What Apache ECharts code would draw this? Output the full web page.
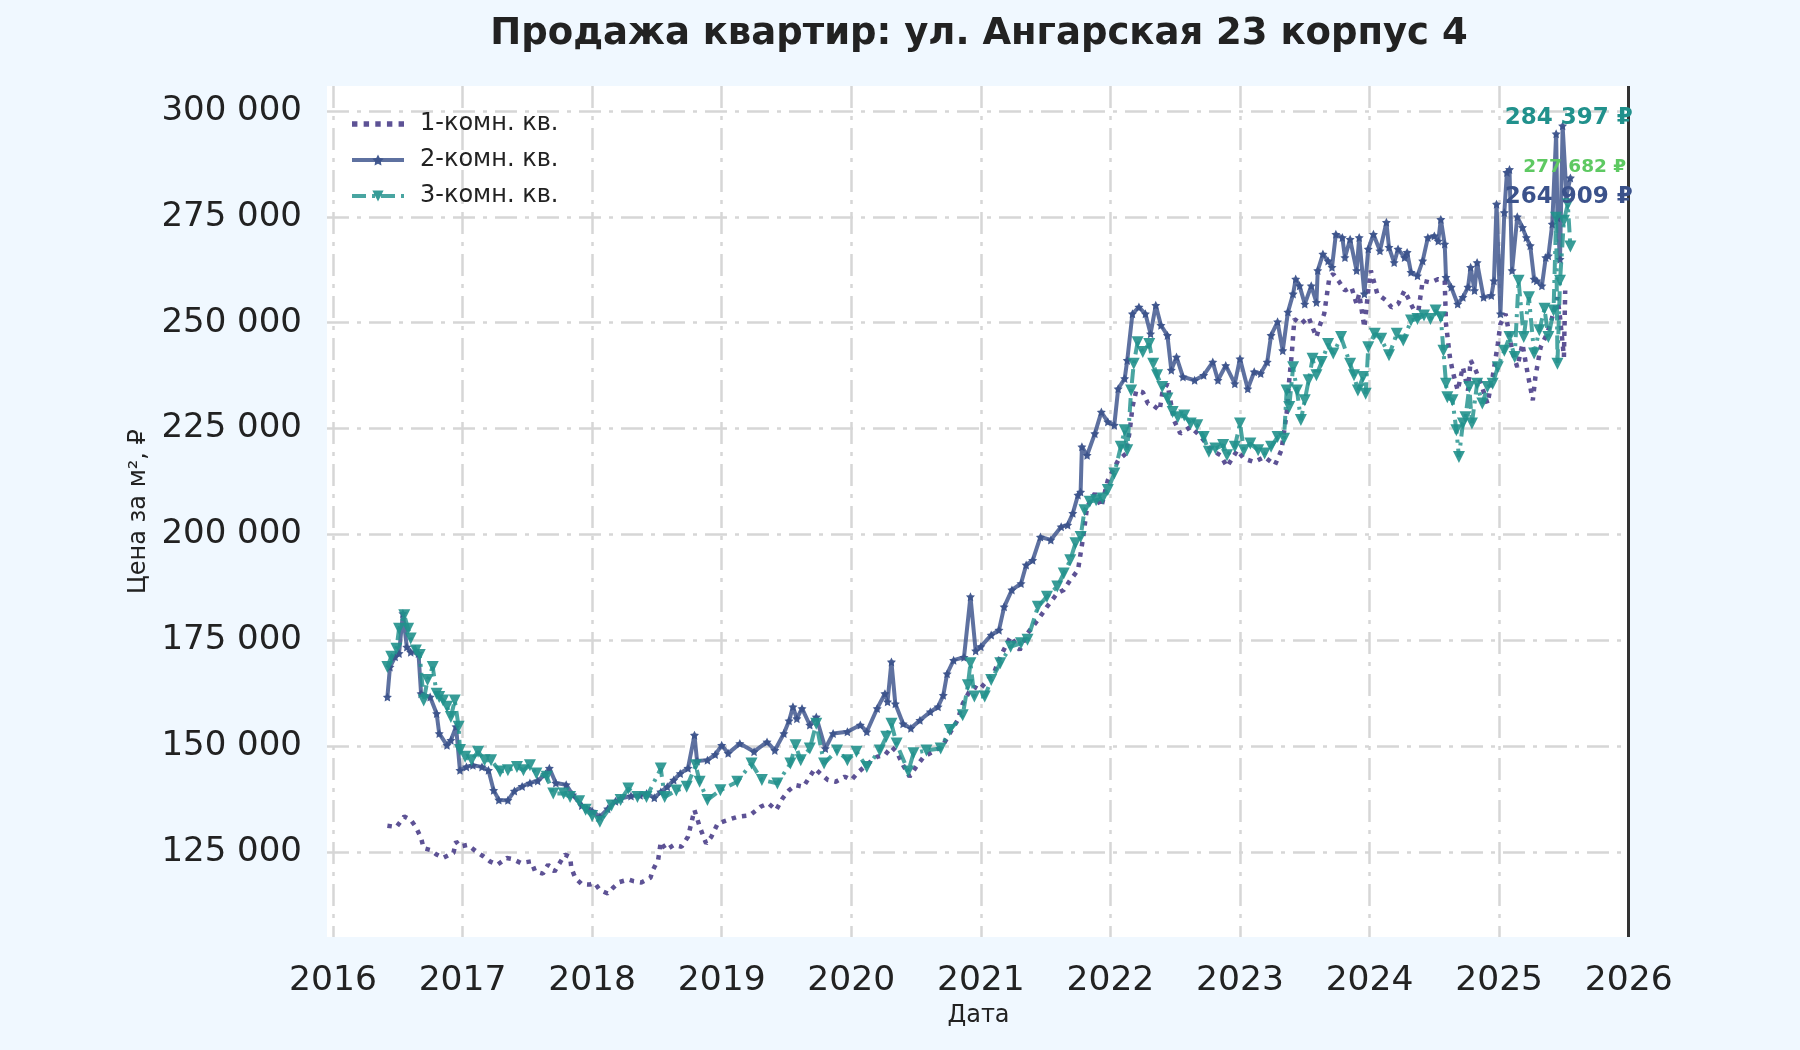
<!DOCTYPE html>
<html>
<head>
<meta charset="utf-8">
<style>
  html, body { margin: 0; padding: 0; background: #f0f8ff; }
  #chart { width: 1800px; height: 1050px; }
</style>
<script src="https://cdn.jsdelivr.net/npm/echarts@6/dist/echarts.min.js"></script>
</head>
<body>
<div id="chart"></div>
<script>
// ---- DATA (decimal year, price per m²) ----
const seriesNames = ['1-комн. кв.', '2-комн. кв.', '3-комн. кв.'];
const xTicks = [2016, 2017, 2018, 2019, 2020, 2021, 2022, 2023, 2024, 2025, 2026];
const yTicks = [125000, 150000, 175000, 200000, 225000, 250000, 275000, 300000];

const oneRoom = [
[2016.42,131200],[2016.49,130900],[2016.55,133400],[2016.60,132600],[2016.64,130900],[2016.68,128300],[2016.70,125900],[2016.75,125500],[2016.80,124400],[2016.85,123600],[2016.93,124800],[2016.95,127500],[2016.98,126300],
[2017.04,126700],[2017.11,125000],[2017.16,124000],[2017.21,122800],[2017.27,122000],[2017.34,123600],[2017.39,123300],[2017.45,122400],[2017.53,122800],[2017.56,120400],[2017.62,119900],[2017.66,122000],[2017.71,120400],[2017.75,122400],[2017.79,124400],[2017.83,123800],[2017.84,121200],[2017.87,118900],[2017.92,117400],[2017.98,117300],
[2018.02,117700],[2018.06,116000],[2018.12,115200],[2018.16,116500],[2018.21,117900],[2018.28,118500],[2018.32,118100],[2018.38,117800],[2018.45,118900],[2018.47,120800],[2018.51,123200],[2018.53,127400],[2018.57,125500],[2018.63,126650],[2018.69,126250],[2018.74,128600],[2018.79,134900],[2018.83,131000],[2018.88,127000],[2018.92,128600],[2018.97,131750],
[2019.04,132500],[2019.12,133300],[2019.22,133700],[2019.30,135700],[2019.36,136500],[2019.42,134900],[2019.47,137650],[2019.52,139600],[2019.57,140800],[2019.63,140400],[2019.68,142800],[2019.72,144700],[2019.76,143550],[2019.82,142000],[2019.88,141600],[2019.95,142800],
[2020.00,142000],[2020.06,144000],[2020.13,145900],[2020.20,147500],[2020.26,147900],[2020.31,149850],[2020.35,148700],[2020.40,145500],[2020.45,142800],[2020.50,145100],[2020.56,147500],[2020.63,148700],[2020.70,149850],[2020.76,153000],[2020.82,156100],[2020.86,160000],[2020.91,162800],[2020.95,164000],[2020.99,163300],
[2021.05,165600],[2021.10,167200],[2021.15,171100],[2021.23,175900],[2021.30,172700],[2021.36,176650],[2021.44,179800],[2021.51,182900],[2021.59,186100],[2021.64,186900],[2021.69,189200],[2021.75,191600],[2021.77,195500],[2021.79,199400],[2021.82,206500],[2021.88,209700],[2021.93,206500],[2021.98,212800],
[2022.06,217500],[2022.12,219100],[2022.15,224600],[2022.17,230100],[2022.20,234000],[2022.25,233600],[2022.29,230900],[2022.33,230500],[2022.38,229300],[2022.40,233300],[2022.44,235600],[2022.49,227000],[2022.54,223800],[2022.62,225400],[2022.70,223000],[2022.78,219900],[2022.85,218700],[2022.90,216000],[2022.98,219900],
[2023.03,217900],[2023.11,217100],[2023.19,218300],[2023.27,216400],[2023.32,219900],[2023.36,228500],[2023.38,236400],[2023.40,242700],[2023.42,250900],[2023.47,249700],[2023.53,251300],[2023.56,248900],[2023.59,246600],[2023.62,249700],[2023.65,252100],[2023.69,260700],[2023.72,261500],[2023.76,259900],[2023.81,257600],[2023.86,258400],[2023.90,254400],[2023.92,256800],[2023.96,248900],[2023.99,257600],
[2024.01,262300],[2024.06,256800],[2024.13,255200],[2024.17,253600],[2024.22,254400],[2024.27,257600],[2024.32,254400],[2024.37,251300],[2024.41,259900],[2024.47,259500],[2024.53,260300],[2024.58,259900],[2024.59,249700],[2024.62,241900],[2024.64,238700],[2024.68,234000],[2024.72,239500],[2024.76,234000],[2024.78,241100],[2024.82,238700],[2024.86,235600],[2024.91,230900],[2024.95,237200],[2024.99,245000],
[2025.01,249700],[2025.05,252100],[2025.10,243400],[2025.14,239500],[2025.18,245000],[2025.22,238000],[2025.26,231700],[2025.28,237200],[2025.32,244200],[2025.37,247400],[2025.41,251300],[2025.45,256000],[2025.47,251300],[2025.50,241900],[2025.51,257600]
];

const twoRoom = [
[2016.42,161600],[2016.44,168700],[2016.48,171100],[2016.51,171900],[2016.54,181300],[2016.57,173400],[2016.60,172200],[2016.66,171900],[2016.68,162400],[2016.75,161600],[2016.80,157700],[2016.82,153000],[2016.88,150200],[2016.91,151400],[2016.95,154600],[2016.98,144300],
[2017.03,145100],[2017.08,145500],[2017.15,145100],[2017.20,144300],[2017.24,139600],[2017.28,137300],[2017.35,137200],[2017.40,139400],[2017.46,140500],[2017.52,141300],[2017.58,141800],[2017.64,143400],[2017.67,144800],[2017.72,141300],[2017.80,140900],[2017.85,138500],[2017.92,136000],[2017.96,135300],
[2018.00,134700],[2018.06,133300],[2018.12,135200],[2018.18,137000],[2018.22,137650],[2018.30,138200],[2018.37,138400],[2018.42,138800],[2018.48,137800],[2018.53,139200],[2018.58,140400],[2018.63,142000],[2018.68,143550],[2018.74,144800],[2018.79,152600],[2018.81,146500],[2018.89,146700],[2018.95,148000],
[2019.00,150200],[2019.05,148300],[2019.14,150600],[2019.25,148700],[2019.35,151000],[2019.41,149000],[2019.48,153000],[2019.52,156000],[2019.55,159300],[2019.58,156500],[2019.62,158900],[2019.68,155000],[2019.73,156900],[2019.80,149450],[2019.86,153000],[2019.97,153400],
[2020.07,155000],[2020.12,153400],[2020.20,158900],[2020.26,162400],[2020.28,160500],[2020.31,169900],[2020.34,160000],[2020.40,155300],[2020.46,154200],[2020.53,156100],[2020.61,158100],[2020.67,159300],[2020.71,162000],[2020.74,167100],[2020.79,170300],[2020.87,171000],[2020.92,185300],[2020.96,172500],
[2021.00,173500],[2021.08,176250],[2021.14,177400],[2021.18,182900],[2021.24,186900],[2021.31,188400],[2021.35,192800],[2021.40,193900],[2021.46,199400],[2021.54,198700],[2021.62,201800],[2021.67,202200],[2021.71,205000],[2021.75,209300],[2021.77,210000],[2021.78,220700],[2021.82,218700],[2021.88,223800],[2021.93,228900],[2021.98,226600],
[2022.03,225800],[2022.06,234400],[2022.11,236800],[2022.13,241100],[2022.17,252100],[2022.22,253700],[2022.27,252100],[2022.31,247400],[2022.35,254100],[2022.39,249400],[2022.44,247000],[2022.47,238800],[2022.51,241900],[2022.56,237200],[2022.65,236400],[2022.72,237600],[2022.79,240700],[2022.83,236400],[2022.89,239900],[2022.96,235600],
[2023.00,241500],[2023.06,234400],[2023.11,238400],[2023.16,238000],[2023.21,240700],[2023.24,247000],[2023.29,250200],[2023.33,243400],[2023.37,252500],[2023.41,256800],[2023.43,260300],[2023.46,258700],[2023.50,254400],[2023.55,258700],[2023.59,254800],[2023.60,262300],[2023.64,266200],[2023.68,264600],[2023.71,263100],[2023.74,270900],[2023.79,270100],[2023.81,265400],[2023.85,269700],[2023.90,262300],[2023.92,270100],[2023.96,256800],[2023.99,267400],
[2024.03,270900],[2024.08,267000],[2024.13,273700],[2024.15,267800],[2024.19,264200],[2024.22,267400],[2024.27,265400],[2024.29,266600],[2024.32,261900],[2024.37,261100],[2024.41,264600],[2024.45,270100],[2024.50,270500],[2024.53,269300],[2024.55,274400],[2024.58,268600],[2024.59,260700],[2024.63,258400],[2024.68,254400],[2024.72,256000],[2024.76,258400],[2024.78,263100],[2024.81,257600],[2024.83,264200],[2024.88,256000],[2024.94,256400],[2024.96,259900],[2024.98,278000],
[2025.01,252100],[2025.04,276000],[2025.06,285500],[2025.08,286200],[2025.10,262300],[2025.14,275000],[2025.18,272500],[2025.21,270100],[2025.24,268200],[2025.27,260300],[2025.29,259900],[2025.33,258700],[2025.36,265400],[2025.38,265800],[2025.41,273300],[2025.44,294600],[2025.45,274800],[2025.47,265000],[2025.49,296500],[2025.52,280000],[2025.55,284200]
];

const threeRoom = [
[2016.42,168700],[2016.45,171100],[2016.49,173000],[2016.51,177750],[2016.55,180900],[2016.58,177750],[2016.60,175400],[2016.64,172600],[2016.67,171500],[2016.70,160800],[2016.73,165600],[2016.77,168700],[2016.80,162400],[2016.82,161600],[2016.85,160800],[2016.88,159300],[2016.91,156900],[2016.94,160800],[2016.97,154600],[2016.98,149100],
[2017.02,147500],[2017.07,146700],[2017.12,148700],[2017.17,146700],[2017.22,146700],[2017.29,144000],[2017.35,144300],[2017.42,145100],[2017.47,144300],[2017.52,145500],[2017.57,143550],[2017.65,142800],[2017.70,138800],[2017.78,138800],[2017.83,138000],[2017.90,137000],[2017.95,135000],
[2018.00,133500],[2018.06,132150],[2018.15,136000],[2018.22,137300],[2018.28,140000],[2018.35,138000],[2018.42,138000],[2018.53,144700],[2018.56,138000],[2018.65,139500],[2018.73,140400],[2018.80,145500],[2018.83,141600],[2018.89,137300],[2018.99,139600],
[2019.12,141600],[2019.23,145900],[2019.31,142000],[2019.43,141200],[2019.53,145900],[2019.57,150200],[2019.61,146700],[2019.68,149450],[2019.73,155300],[2019.79,145900],[2019.89,149000],[2019.97,146700],
[2020.04,148700],[2020.12,145100],[2020.22,149000],[2020.27,152200],[2020.31,155300],[2020.35,150600],[2020.44,144000],[2020.48,148300],[2020.58,149000],[2020.69,149450],[2020.76,153800],[2020.86,157300],[2020.90,164400],[2020.92,169600],[2020.95,161700],
[2021.03,161700],[2021.08,165600],[2021.15,169600],[2021.23,173500],[2021.31,174300],[2021.36,175100],[2021.44,182900],[2021.51,185300],[2021.59,187700],[2021.64,190800],[2021.69,193900],[2021.73,197900],[2021.77,199400],[2021.80,205700],[2021.84,207700],[2021.89,208100],[2021.94,208500],[2021.98,210500],
[2022.03,214400],[2022.08,220700],[2022.11,224600],[2022.13,219900],[2022.16,234000],[2022.18,240300],[2022.21,245400],[2022.25,243100],[2022.30,245000],[2022.33,240300],[2022.36,237600],[2022.40,234800],[2022.44,232100],[2022.48,228900],[2022.52,227700],[2022.57,228100],[2022.62,226200],[2022.67,225800],[2022.72,223000],[2022.76,219500],[2022.81,220300],[2022.87,221100],[2022.90,218700],[2022.96,220700],
[2023.00,226200],[2023.03,219900],[2023.08,221500],[2023.14,219900],[2023.19,219100],[2023.24,220700],[2023.29,223000],[2023.34,222600],[2023.36,234000],[2023.38,230100],[2023.41,239500],[2023.44,234000],[2023.47,227000],[2023.50,231700],[2023.53,236400],[2023.56,241500],[2023.59,237600],[2023.63,240700],[2023.68,245000],[2023.72,242700],[2023.78,246600],[2023.85,240300],[2023.88,237600],[2023.91,234000],[2023.95,237200],[2023.97,233200],[2023.99,244200],
[2024.04,247400],[2024.09,246200],[2024.15,242300],[2024.21,247400],[2024.26,245800],[2024.32,250500],[2024.37,250900],[2024.42,251700],[2024.47,250900],[2024.51,252900],[2024.55,251300],[2024.57,243400],[2024.59,235600],[2024.60,232400],[2024.64,231700],[2024.67,224600],[2024.69,218300],[2024.72,226200],[2024.74,227700],[2024.77,234800],[2024.79,226200],[2024.83,235600],[2024.87,230900],[2024.91,234800],[2024.95,235600],[2024.99,239500],
[2025.04,243400],[2025.08,246600],[2025.12,241900],[2025.15,259900],[2025.19,246600],[2025.23,256000],[2025.27,242700],[2025.31,248200],[2025.35,253300],[2025.38,246600],[2025.42,252900],[2025.44,274800],[2025.45,240300],[2025.47,259900],[2025.50,274100],[2025.53,278000],[2025.55,268000]
];

// right-edge value annotations (text, anchor year, anchor price)
const endLabelTexts = ['284 397 ₽', '277 682 ₽', '264 909 ₽'];
const endLabelAnchors = [[2026.0, 298400], [2025.95, 286800], [2026.0, 279700]];
const endLabelColors = ['#21918c', '#5ec962', '#3b528b'];
const endLabelSizes = [23, 18.5, 23];

// ---- CHART ----
const FONT = 'DejaVu Sans';
const fmtThousands = v => String(Math.round(v)).replace(/\B(?=(\d{3})+(?!\d))/g, ' ');
const starPath = 'path://M0,-10 L2.94,-4.05 L9.51,-3.09 L4.76,1.55 L5.88,8.09 L0,5 L-5.88,8.09 L-4.76,1.55 L-9.51,-3.09 L-2.94,-4.05 Z';
const dottedIcon = 'path://M0,0h5v5h-5z M10.75,0h5v5h-5z M21.5,0h5v5h-5z M32.25,0h5v5h-5z M43,0h5v5h-5z';
const gridLine = { color: '#d6d6d6', width: 2.5, type: [22, 8, 4, 8] };
const oneColor = '#4b3f8a';

const chart = echarts.init(document.getElementById('chart'), null, { renderer: 'canvas' });

const option = {
  animation: false,
  backgroundColor: '#f0f8ff',
  title: {
    text: 'Продажа квартир: ул. Ангарская 23 корпус 4',
    left: 979, top: 16, textAlign: 'center', padding: 0,
    textStyle: { fontFamily: FONT, fontSize: 37, fontWeight: 'bold', color: '#222' }
  },
  legend: {
    data: [
      { name: seriesNames[0], icon: dottedIcon, itemStyle: { color: oneColor, opacity: 0.9 } },
      { name: seriesNames[1] },
      { name: seriesNames[2] }
    ],
    orient: 'vertical',
    left: 350, top: 112, padding: 0,
    itemWidth: 52, itemHeight: 14, itemGap: 12,
    symbolKeepAspect: true,
    lineStyle: { width: 4 },
    textStyle: { fontFamily: FONT, fontSize: 24, color: '#222', padding: [0, 0, 0, 11] }
  },
  grid: {
    left: 327, right: 170, top: 86, bottom: 113,
    show: true, backgroundColor: '#ffffff', borderWidth: 0
  },
  xAxis: {
    type: 'value',
    min: 2015.954, max: 2026.01,
    name: 'Дата', nameLocation: 'middle', nameGap: 66,
    nameTextStyle: { fontFamily: FONT, fontSize: 24, color: '#222' },
    axisLine: { show: false },
    axisTick: { show: false, customValues: xTicks },
    axisLabel: {
      customValues: xTicks, margin: 27,
      fontFamily: FONT, fontSize: 34.5, color: '#222',
      formatter: v => String(Math.round(v))
    },
    splitLine: { show: true, lineStyle: gridLine }
  },
  yAxis: {
    type: 'value',
    min: 104930, max: 305900,
    name: 'Цена за м², ₽', nameLocation: 'middle', nameGap: 176,
    nameTextStyle: { fontFamily: FONT, fontSize: 24, color: '#222' },
    axisLine: { show: false },
    axisTick: { show: false, customValues: yTicks },
    axisLabel: {
      customValues: yTicks, margin: 25,
      fontFamily: FONT, fontSize: 34, color: '#222',
      formatter: v => fmtThousands(v)
    },
    splitLine: { show: true, lineStyle: gridLine }
  },
  series: [
    {
      name: seriesNames[0], type: 'line', data: oneRoom,
      symbol: 'none', z: 2,
      color: oneColor,
      lineStyle: { color: oneColor, width: 4.5, type: [4.5, 6], opacity: 0.9 },
      markLine: {
        silent: true, symbol: ['none', 'none'], label: { show: false },
        lineStyle: { color: '#333', width: 3, type: 'solid' },
        data: [{ xAxis: 2026 }]
      }
    },
    {
      name: seriesNames[1], type: 'line', data: twoRoom,
      symbol: starPath, symbolSize: 9, showAllSymbol: true, z: 3,
      color: '#3b528b',
      itemStyle: { color: '#3b528b', opacity: 0.95 },
      lineStyle: { color: '#3b528b', width: 4, opacity: 0.82 }
    },
    {
      name: seriesNames[2], type: 'line', data: threeRoom,
      symbol: 'triangle', symbolRotate: 180, symbolSize: 12, showAllSymbol: true, z: 4,
      color: '#21918c',
      itemStyle: { color: '#21918c', opacity: 0.9 },
      lineStyle: { color: '#21918c', width: 4, type: [14, 6, 3, 6], opacity: 0.82 },
      markPoint: {
        symbol: 'circle', symbolSize: 0, silent: true,
        data: endLabelTexts.map((t, i) => ({
          coord: endLabelAnchors[i],
          label: {
            show: true, position: 'left', distance: 0, offset: [4, 0], formatter: t,
            fontFamily: FONT, fontWeight: 'bold', fontSize: endLabelSizes[i], color: endLabelColors[i]
          }
        }))
      }
    }
  ]
};

chart.setOption(option);
</script>
</body>
</html>
